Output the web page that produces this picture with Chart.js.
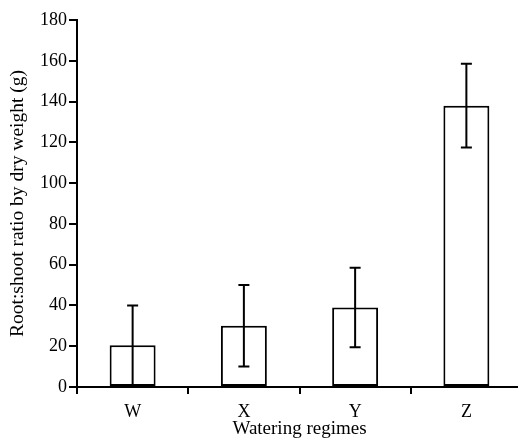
<!DOCTYPE html>
<html>
<head>
<meta charset="utf-8">
<script src="https://cdn.jsdelivr.net/npm/chart.js@4/dist/chart.umd.min.js"></script>
<style>
  html, body { margin: 0; padding: 0; background: #fff; overflow: hidden; }
  #wrap { width: 530px; height: 440px; }
</style>
</head>
<body>
<div id="wrap"><canvas id="rootShootChart" width="530" height="440"></canvas></div>
<script>
// values
const regimes = ["W", "X", "Y", "Z"];
const ratioMeans = [20.5, 30, 39, 138];
const ratioErrors = [19.5, 20, 19.5, 20.5];
const yMin = 0;
const yMax = 180;
const yStep = 20;

// error bars drawn from the y scale
const errorBarPlugin = {
  id: "errorBars",
  afterDatasetsDraw(chart) {
    const meta = chart.getDatasetMeta(0);
    const yScale = chart.scales.y;
    const ctx = chart.ctx;
    ctx.save();
    ctx.strokeStyle = "#000";
    ctx.lineWidth = 2;
    meta.data.forEach((bar, i) => {
      const x = bar.x;
      const top = yScale.getPixelForValue(ratioMeans[i] + ratioErrors[i]);
      const bottom = yScale.getPixelForValue(ratioMeans[i] - ratioErrors[i]);
      const cap = 5.5;
      ctx.beginPath();
      ctx.moveTo(x, top);
      ctx.lineTo(x, bottom);
      ctx.moveTo(x - cap, top);
      ctx.lineTo(x + cap, top);
      ctx.moveTo(x - cap, bottom);
      ctx.lineTo(x + cap, bottom);
      ctx.stroke();
    });
    ctx.restore();
  }
};

const serifFamily = "'Liberation Serif', 'Times New Roman', serif";
const tickFont = { family: serifFamily, size: 18 };

const ctx = document.getElementById("rootShootChart").getContext("2d");

new Chart(ctx, {
  type: "bar",
  data: {
    labels: regimes,
    datasets: [{
      data: ratioMeans,
      backgroundColor: "#ffffff",
      borderColor: "#000000",
      borderWidth: 2,
      borderSkipped: false,
      categoryPercentage: 1,
      barPercentage: 0.413
    }]
  },
  options: {
    responsive: false,
    animation: false,
    devicePixelRatio: 1,
    layout: { padding: { top: 20, right: 8, bottom: 0, left: 0 } },
    plugins: {
      legend: { display: false },
      tooltip: { enabled: false }
    },
    scales: {
      x: {
        offset: true,
        afterFit: scale => { scale.height = 53; },
        border: { display: true, color: "#000", width: 2 },
        grid: {
          offset: true,
          drawOnChartArea: false,
          drawTicks: true,
          tickLength: 7,
          color: "#000",
          lineWidth: 2
        },
        ticks: { color: "#000", font: tickFont, padding: 7 },
        title: {
          display: true,
          text: "Watering regimes",
          color: "#000",
          font: { family: serifFamily, size: 19 },
          padding: { top: 0, bottom: 0 }
        }
      },
      y: {
        min: yMin,
        max: yMax,
        afterFit: scale => { scale.width = 77; },
        border: { display: true, color: "#000", width: 2 },
        grid: {
          drawOnChartArea: false,
          drawTicks: true,
          tickLength: 8,
          color: "#000",
          lineWidth: 2
        },
        ticks: { stepSize: yStep, color: "#000", font: tickFont, padding: 2 },
        title: {
          display: true,
          text: "Root:shoot ratio by dry weight (g)",
          color: "#000",
          font: { family: serifFamily, size: 19.5 },
          padding: { top: 6, bottom: 0 }
        }
      }
    }
  },
  plugins: [errorBarPlugin]
});
</script>
</body>
</html>
